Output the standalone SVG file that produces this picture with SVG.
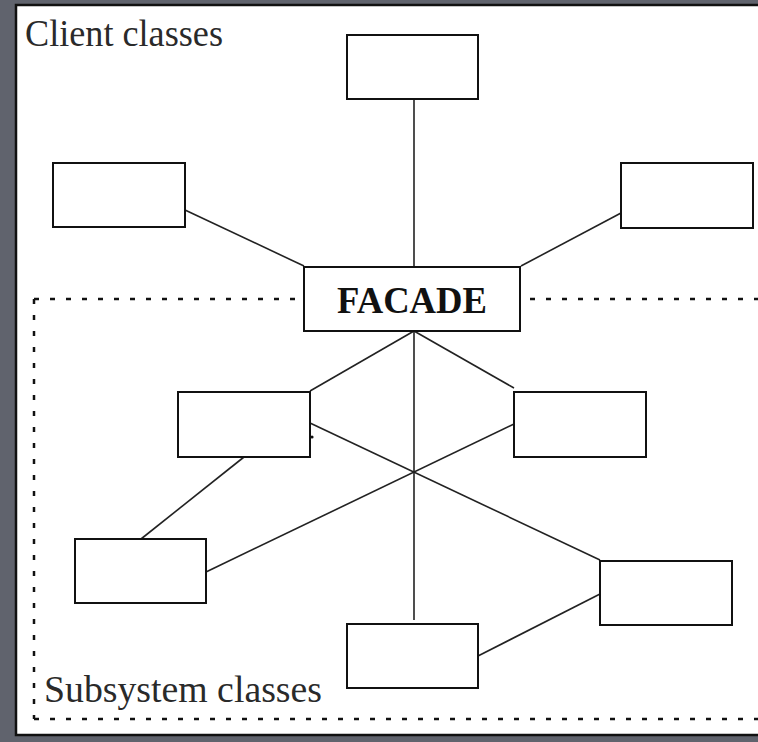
<svg xmlns="http://www.w3.org/2000/svg" width="758" height="742" viewBox="0 0 758 742">
<style>
.box{fill:#fff;stroke:#111;stroke-width:2}
.ln{stroke:#222;stroke-width:1.6;fill:none}
.dash{stroke:#111;stroke-width:2.5;stroke-dasharray:5 11;fill:none}
.lbl{font-family:"Liberation Serif","Times New Roman",serif;font-size:38px;fill:#2a2a2a}
.fac{font-family:"Liberation Serif","Times New Roman",serif;font-size:38px;font-weight:bold;fill:#111}
</style>
<rect x="0" y="0" width="758" height="742" fill="#60636d"/>
<rect x="16" y="5" width="760" height="730" fill="#fff" stroke="#111" stroke-width="2.5"/>
<g id="subsystem-boundary">
<path class="dash" d="M34 299 H758 M34 299 V719 M34 719 H758"/>
</g>
<text class="lbl" x="25" y="46" textLength="198" lengthAdjust="spacingAndGlyphs">Client classes</text>
<text class="lbl" x="44" y="702" textLength="278" lengthAdjust="spacingAndGlyphs">Subsystem classes</text>
<g id="connectors">
<line class="ln" x1="414" y1="99" x2="414" y2="267"/>
<line class="ln" x1="185" y1="210" x2="304" y2="266"/>
<line class="ln" x1="621" y1="213" x2="521" y2="266"/>
<line class="ln" x1="414" y1="331" x2="310" y2="391"/>
<line class="ln" x1="414" y1="331" x2="514" y2="388"/>
<line class="ln" x1="414" y1="331" x2="414" y2="620"/>
<line class="ln" x1="310" y1="423" x2="600" y2="560"/>
<line class="ln" x1="206" y1="572" x2="514" y2="424"/>
<line class="ln" x1="244" y1="457" x2="141" y2="539"/>
<line class="ln" x1="478" y1="656" x2="600" y2="594"/>
<circle cx="312" cy="437" r="1.6" fill="#111"/>
</g>
<g id="client-top"><rect class="box" x="347" y="35" width="131" height="64"/></g>
<g id="client-left"><rect class="box" x="53" y="163" width="132" height="64"/></g>
<g id="client-right"><rect class="box" x="621" y="163" width="132" height="65"/></g>
<g id="facade">
<rect class="box" x="304" y="267" width="216" height="64"/>
<text class="fac" x="337" y="313" textLength="150" lengthAdjust="spacingAndGlyphs">FACADE</text>
</g>
<g id="sub-upper-left"><rect class="box" x="178" y="392" width="132" height="65"/></g>
<g id="sub-upper-right"><rect class="box" x="514" y="392" width="132" height="65"/></g>
<g id="sub-lower-left"><rect class="box" x="75" y="539" width="131" height="64"/></g>
<g id="sub-lower-right"><rect class="box" x="600" y="561" width="132" height="64"/></g>
<g id="sub-bottom"><rect class="box" x="347" y="624" width="131" height="64"/></g>
</svg>
